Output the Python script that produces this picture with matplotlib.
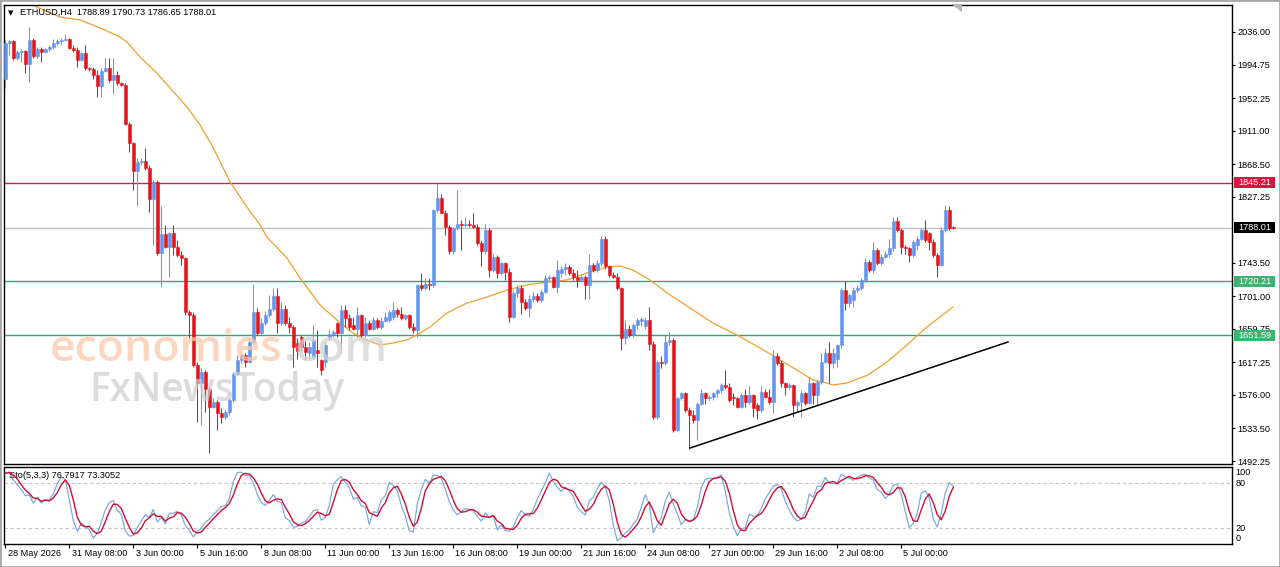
import numpy as np
import pandas as pd
import matplotlib
matplotlib.use("Agg")
import matplotlib.pyplot as plt
import matplotlib.transforms as mtransforms
from matplotlib.patches import Rectangle, Polygon

plt.rcParams['font.family'] = ['Liberation Sans', 'DejaVu Sans']

# ---------------- data ----------------
symbol = "ETHUSD,H4"
last_ohlc = [1788.89, 1790.73, 1786.65, 1788.01]

opens = [
    1977, 2022, 2024, 2003, 2011, 2012, 1995, 2026, 2005, 2015,
    2010, 2014, 2017, 2022, 2025, 2026, 2027, 2016, 2013, 2001,
    2009, 1990, 1989, 1981, 1967, 1986, 1990, 1975, 1981, 1971,
    1969, 1920, 1895, 1860, 1871, 1872, 1863, 1824, 1846, 1756,
    1780, 1764, 1781, 1764, 1753, 1749, 1681, 1677, 1614, 1591,
    1605, 1584, 1561, 1567, 1553, 1548, 1555, 1570, 1603, 1620,
    1627, 1618, 1643, 1681, 1654, 1667, 1677, 1685, 1701, 1667,
    1685, 1667, 1662, 1642, 1650, 1637, 1629, 1624, 1633, 1620,
    1618, 1648, 1653, 1667, 1654, 1684, 1673, 1665, 1660, 1677,
    1652, 1667, 1660, 1671, 1662, 1670, 1671, 1675, 1684, 1679,
    1673, 1677, 1662, 1658, 1715, 1711, 1717, 1715, 1810, 1825,
    1807, 1789, 1758, 1787, 1793, 1791, 1793, 1791, 1789, 1768,
    1758, 1785, 1734, 1751, 1730, 1743, 1732, 1675, 1705, 1711,
    1694, 1686, 1698, 1701, 1696, 1707, 1724, 1726, 1713, 1730,
    1735, 1738, 1730, 1726, 1722, 1726, 1715, 1741, 1734, 1743,
    1774, 1739, 1728, 1726, 1711, 1648, 1660, 1652, 1665, 1670,
    1664, 1671, 1641, 1548, 1618, 1616, 1643, 1646, 1532, 1572,
    1578, 1557, 1550, 1544, 1565, 1578, 1572, 1574, 1578, 1582,
    1589, 1586, 1574, 1572, 1561, 1576, 1567, 1576, 1563, 1557,
    1580, 1574, 1567, 1625, 1616, 1591, 1586, 1589, 1563, 1567,
    1578, 1566, 1591, 1576, 1593, 1618, 1629, 1616, 1622, 1639,
    1709, 1692, 1696, 1709, 1711, 1722, 1745, 1734, 1760, 1743,
    1751, 1755, 1762, 1796, 1785, 1764, 1762, 1753, 1766, 1774,
    1785, 1781, 1770, 1753, 1741, 1785, 1810, 1788.89,
]
highs = [
    2026, 2026, 2026, 2013, 2015, 2013, 2042, 2028, 2017, 2017,
    2016, 2019, 2027, 2027, 2028, 2033, 2028, 2019, 2017, 2011,
    2020, 1992, 1992, 1988, 1990, 2003, 2003, 2003, 1986, 1972,
    1971, 1922, 1897, 1876, 1876, 1889, 1867, 1848, 1848, 1815,
    1791, 1783, 1791, 1772, 1758, 1751, 1684, 1681, 1618, 1610,
    1608, 1586, 1572, 1570, 1559, 1557, 1572, 1605, 1627, 1631,
    1629, 1648, 1717, 1686, 1673, 1682, 1703, 1711, 1711, 1694,
    1690, 1675, 1665, 1648, 1652, 1646, 1643, 1665, 1658, 1622,
    1643, 1658, 1658, 1669, 1690, 1690, 1679, 1675, 1688, 1679,
    1675, 1671, 1675, 1673, 1675, 1681, 1684, 1694, 1686, 1688,
    1679, 1679, 1667, 1717, 1730, 1724, 1724, 1812, 1844, 1831,
    1810, 1791, 1789, 1836, 1798, 1802, 1798, 1806, 1793, 1772,
    1793, 1787, 1755, 1753, 1745, 1745, 1737, 1709, 1715, 1715,
    1698, 1703, 1707, 1705, 1709, 1728, 1728, 1727, 1747, 1739,
    1743, 1741, 1735, 1734, 1728, 1728, 1755, 1743, 1747, 1777,
    1777, 1741, 1732, 1730, 1713, 1671, 1665, 1667, 1673, 1675,
    1675, 1688, 1644, 1620, 1625, 1652, 1656, 1648, 1574, 1580,
    1580, 1561, 1557, 1567, 1584, 1580, 1576, 1580, 1584, 1591,
    1608, 1591, 1578, 1574, 1578, 1584, 1587, 1577, 1566, 1587,
    1584, 1584, 1633, 1629, 1620, 1593, 1591, 1590, 1570, 1582,
    1580, 1599, 1593, 1595, 1629, 1635, 1643, 1635, 1641, 1711,
    1720, 1705, 1713, 1715, 1724, 1749, 1747, 1770, 1762, 1755,
    1758, 1774, 1802, 1802, 1787, 1766, 1764, 1772, 1777, 1787,
    1798, 1783, 1774, 1756, 1789, 1817, 1815, 1790.73,
]
lows = [
    1965, 2007, 2001, 2001, 1998, 1984, 1973, 2003, 2003, 1998,
    2009, 2012, 2015, 2020, 2020, 2024, 2014, 2011, 1992, 1999,
    1988, 1987, 1977, 1954, 1954, 1985, 1973, 1958, 1969, 1967,
    1918, 1884, 1836, 1815, 1867, 1861, 1808, 1766, 1753, 1713,
    1762, 1726, 1753, 1751, 1741, 1677, 1648, 1611, 1542, 1538,
    1555, 1502, 1559, 1532, 1540, 1546, 1550, 1567, 1601, 1616,
    1612, 1618, 1640, 1652, 1652, 1665, 1675, 1682, 1654, 1665,
    1665, 1654, 1612, 1622, 1632, 1620, 1622, 1622, 1612, 1601,
    1612, 1645, 1650, 1650, 1629, 1662, 1658, 1658, 1650, 1650,
    1650, 1658, 1658, 1660, 1660, 1669, 1669, 1671, 1675, 1671,
    1671, 1660, 1654, 1650, 1709, 1709, 1709, 1713, 1808, 1806,
    1779, 1755, 1755, 1785, 1760, 1789, 1789, 1787, 1766, 1739,
    1755, 1726, 1732, 1724, 1728, 1722, 1669, 1673, 1700, 1679,
    1684, 1675, 1694, 1694, 1694, 1705, 1720, 1711, 1705, 1725,
    1728, 1728, 1722, 1713, 1720, 1698, 1698, 1732, 1732, 1739,
    1736, 1726, 1724, 1709, 1633, 1641, 1650, 1650, 1660, 1663,
    1660, 1633, 1546, 1546, 1610, 1614, 1639, 1529, 1530, 1570,
    1555, 1508, 1540, 1519, 1563, 1565, 1570, 1570, 1574, 1578,
    1584, 1567, 1563, 1559, 1559, 1561, 1565, 1548, 1546, 1555,
    1572, 1565, 1553, 1614, 1586, 1576, 1584, 1548, 1555, 1548,
    1563, 1564, 1565, 1563, 1590, 1616, 1591, 1610, 1612, 1635,
    1684, 1688, 1688, 1707, 1709, 1719, 1732, 1730, 1741, 1741,
    1749, 1751, 1758, 1783, 1755, 1755, 1745, 1751, 1760, 1772,
    1770, 1760, 1751, 1726, 1739, 1783, 1785, 1786.65,
]
closes = [
    2022, 2024, 2003, 2011, 2012, 1995, 2026, 2005, 2015, 2010,
    2014, 2017, 2022, 2025, 2026, 2027, 2016, 2013, 2001, 2009,
    1990, 1989, 1981, 1967, 1986, 1990, 1975, 1981, 1971, 1969,
    1920, 1895, 1860, 1871, 1872, 1863, 1824, 1846, 1756, 1780,
    1764, 1781, 1764, 1753, 1749, 1681, 1677, 1614, 1591, 1605,
    1584, 1561, 1567, 1553, 1548, 1555, 1570, 1603, 1620, 1627,
    1618, 1643, 1681, 1654, 1667, 1677, 1685, 1701, 1667, 1685,
    1667, 1662, 1637, 1632, 1637, 1631, 1637, 1646, 1629, 1608,
    1639, 1653, 1656, 1654, 1684, 1673, 1662, 1660, 1677, 1652,
    1667, 1660, 1671, 1662, 1670, 1675, 1681, 1684, 1679, 1673,
    1677, 1662, 1658, 1715, 1711, 1717, 1715, 1810, 1825, 1807,
    1789, 1758, 1787, 1793, 1791, 1793, 1791, 1789, 1768, 1758,
    1785, 1734, 1751, 1730, 1743, 1732, 1675, 1705, 1711, 1694,
    1686, 1698, 1701, 1696, 1707, 1724, 1726, 1713, 1734, 1735,
    1738, 1730, 1726, 1722, 1726, 1715, 1741, 1734, 1743, 1774,
    1739, 1728, 1726, 1711, 1648, 1660, 1652, 1665, 1671, 1672,
    1671, 1641, 1548, 1618, 1616, 1643, 1646, 1532, 1572, 1578,
    1557, 1550, 1544, 1565, 1578, 1572, 1574, 1578, 1582, 1589,
    1586, 1570, 1572, 1561, 1576, 1567, 1576, 1559, 1557, 1580,
    1574, 1567, 1625, 1616, 1591, 1586, 1589, 1563, 1567, 1578,
    1566, 1591, 1576, 1593, 1618, 1629, 1616, 1629, 1639, 1709,
    1692, 1703, 1709, 1711, 1722, 1745, 1734, 1760, 1743, 1751,
    1755, 1762, 1796, 1785, 1764, 1762, 1753, 1770, 1774, 1785,
    1772, 1770, 1753, 1741, 1785, 1810, 1788, 1788.01,
]

# moving average (orange): candle index -> value
ma_idx = [6.7, 13.7, 18.7, 23.7, 28.7, 30.4, 33.7, 37.9, 41.2, 45.4, 48.7, 51.9,
          56.2, 60.4, 63.7, 65.4, 70.4, 73.7, 78.7, 82.9, 86.9, 90.4, 93.7, 96.9,
          100.4, 102.9, 106.2, 110.4, 115.4, 120.4, 125.4, 130.4, 135.4, 140.4,
          145.4, 150.4, 153.7, 156.9, 161.2, 166.2, 171.2, 176.9, 182.9, 188.7,
          193.7, 198.7, 201.9, 205.4, 206.9, 210.4, 215.7, 220.4, 225.4, 230.4,
          233.7, 236.9]
ma_vals = [2070.2, 2055.0, 2051.2, 2041.1, 2029.7, 2023.3, 2004.3, 1984.0, 1965.0,
           1941.0, 1918.1, 1890.2, 1845.9, 1814.2, 1791.4, 1776.2, 1749.6, 1724.3,
           1690.0, 1671.0, 1654.5, 1645.6, 1639.3, 1641.8, 1645.6, 1652.0, 1662.1,
           1679.8, 1692.5, 1700.1, 1709.0, 1715.3, 1719.1, 1721.7, 1730.5, 1738.1,
           1739.4, 1734.3, 1721.7, 1702.7, 1686.2, 1667.2, 1652.0, 1635.5, 1620.3,
           1605.1, 1595.0, 1591.1, 1588.6, 1591.1, 1601.3, 1617.7, 1639.3, 1662.1,
           1674.8, 1687.4]

trend_idx = [171.2, 250.7]
trend_vals = [1508.7, 1643.1]

level_resist = 1845.21
level_current = 1788.01
levels_support = [1720.21, 1651.59]

ytick_vals = [2036.00, 1994.75, 1952.25, 1911.00, 1868.50, 1827.25, 1743.50,
              1701.00, 1659.75, 1617.25, 1576.00, 1533.50, 1492.25]

date_labels = ["28 May 2026", "31 May 08:00", "3 Jun 00:00", "5 Jun 16:00",
               "8 Jun 08:00", "11 Jun 00:00", "13 Jun 16:00", "16 Jun 08:00",
               "19 Jun 00:00", "21 Jun 16:00", "24 Jun 08:00", "27 Jun 00:00",
               "29 Jun 16:00", "2 Jul 08:00", "5 Jul 00:00"]
date_idx = [0, 16, 32, 48, 64, 80, 96, 112, 128, 144, 160, 176, 192, 208, 224]

sto_k, sto_slow, sto_d = 5, 3, 3
sto_title_vals = [76.7917, 73.3052]

# ---------------- layout ----------------
W, H = 1280, 567
fig = plt.figure(figsize=(12.8, 5.67), dpi=100)
fig.patch.set_facecolor('white')


def fx(px):
    return px / W


def fy(py):
    return 1 - py / H


L_PX, R_PX = 3.5, 1232
ax = fig.add_axes([fx(L_PX), fy(463.5), fx(R_PX) - fx(L_PX), fy(5) - fy(463.5)])
ax2 = fig.add_axes([fx(L_PX), fy(544.3), fx(R_PX) - fx(L_PX), fy(466.7) - fy(544.3)])

XMIN, XMAX = -0.45, 306.7
YMIN, YMAX = 1489.1, 2070.2
FS = 6.6

o = np.array(opens, float)
h = np.array(highs, float)
l = np.array(lows, float)
c = np.array(closes, float)
h = np.maximum(h, np.maximum(o, c))
l = np.minimum(l, np.minimum(o, c))
n = len(c)
idx = np.arange(n)

bull = '#6495ED'
bear = '#E3141B'
up = c >= o
cols = np.where(up, bull, bear)

ax.set_xlim(XMIN, XMAX)
ax.set_ylim(YMIN, YMAX)

# horizontal levels
ax.axhline(level_resist, color='#b8285e', lw=1.0, zorder=1)
ax.axhline(level_current, color='#c0c0c0', lw=1.0, zorder=1)
for lv in levels_support:
    ax.axhline(lv, color='#3c9f78', lw=1.0, zorder=1)

# moving average
ax.plot(ma_idx, ma_vals, color='#F0A030', lw=0.9, zorder=2)

# candles
ax.vlines(idx, l, h, colors=cols, linewidth=0.75, zorder=3)
ax.bar(idx, np.abs(c - o), bottom=np.minimum(o, c), width=0.68, color=cols,
       edgecolor=cols, linewidth=0.4, zorder=4)

# trend line
ax.plot(trend_idx, trend_vals, color='black', lw=1.1, zorder=5)

# axes styling
for sp in ax.spines.values():
    sp.set_color('black')
    sp.set_linewidth(1.0)
ax.set_xticks([])
ax.yaxis.tick_right()
ax.set_yticks(ytick_vals)
ax.set_yticklabels([f"{v:.2f}" for v in ytick_vals])
ax.tick_params(axis='y', length=2.5, width=0.8, pad=1.5, labelsize=FS,
               direction='out', colors='black')

# price tags
ppp = (YMAX - YMIN) / 458.5  # price per pixel
trans = mtransforms.blended_transform_factory(ax.transAxes, ax.transData)
axw = R_PX - L_PX


def price_tag(val, bg):
    rect = Rectangle((1.0 + 2.3 / axw, val - 5.6 * ppp), 41 / axw, 11.2 * ppp,
                     transform=trans, facecolor=bg, edgecolor='none',
                     clip_on=False, zorder=20)
    ax.add_patch(rect)
    ax.text(1.0 + 22.8 / axw, val, f"{val:.2f}", transform=trans, ha='center',
            va='center', fontsize=FS, color='white', clip_on=False, zorder=21)


price_tag(level_resist, '#DC143C')
price_tag(level_current, '#000000')
for lv in levels_support:
    price_tag(lv, '#3CB371')

# title
ax.text((8 - L_PX) / axw, (463.5 - 12.8) / 458.5, '▼', transform=ax.transAxes,
        fontsize=5, family='DejaVu Sans', ha='left', va='center', color='black')
ax.text((20.5 - L_PX) / axw, (463.5 - 12.8) / 458.5,
        f"{symbol}  " + " ".join(f"{v:.2f}" for v in last_ohlc),
        transform=ax.transAxes, fontsize=FS, ha='left', va='center', color='black')

# ---------------- stochastic ----------------
s_h, s_l, s_c = pd.Series(h), pd.Series(l), pd.Series(c)
ll = s_l.rolling(sto_k, min_periods=1).min()
hh = s_h.rolling(sto_k, min_periods=1).max()
num = (s_c - ll).rolling(sto_slow, min_periods=1).sum()
den = (hh - ll).rolling(sto_slow, min_periods=1).sum()
k_line = 100 * num / den.replace(0, np.nan)
d_line = k_line.rolling(sto_d, min_periods=1).mean()

ax2.set_xlim(XMIN, XMAX)
ax2.set_ylim(-1.3, 102.1)
for lvl in (20, 80):
    ax2.axhline(lvl, color='#c4c4c4', lw=0.8, ls=(0, (3, 2.5)), zorder=1)
ax2.plot(idx, k_line, color='#7aa6dc', lw=0.85, zorder=3)
ax2.plot(idx, d_line, color='#cc1133', lw=1.0, zorder=4)
for sp in ax2.spines.values():
    sp.set_color('black')
    sp.set_linewidth(1.0)
ax2.set_yticks([])
ax2.set_xticks(date_idx)
ax2.set_xticklabels([])
ax2.tick_params(axis='x', length=3, width=0.8, direction='out', colors='black')

tr2 = mtransforms.blended_transform_factory(ax2.transAxes, ax2.transData)
ax2.text(1.0 + 3.5 / axw, 100, '100', transform=tr2, fontsize=FS, ha='left', va='top')
ax2.text(1.0 + 3.5 / axw, 80, '80', transform=tr2, fontsize=FS, ha='left', va='center')
ax2.text(1.0 + 3.5 / axw, 20, '20', transform=tr2, fontsize=FS, ha='left', va='center')
ax2.text(1.0 + 3.5 / axw, 0, '0', transform=tr2, fontsize=FS, ha='left', va='bottom')
ax2.text((9 - L_PX) / axw, (544.3 - 476) / 77.6,
         f"Sto({sto_k},{sto_slow},{sto_d}) {sto_title_vals[0]:.4f} {sto_title_vals[1]:.4f}",
         transform=ax2.transAxes, fontsize=FS, ha='left', va='center')

for di, lab in zip(date_idx, date_labels):
    ax2.annotate(lab, xy=(di, 0), xycoords=('data', 'axes fraction'),
                 xytext=(1.6, -6.3), textcoords='offset points',
                 ha='left', va='center', fontsize=FS, annotation_clip=False)

# ---------------- watermark ----------------
renderer = fig.canvas.get_renderer()
wm1 = fig.text(fx(50), fy(361), 'economies', fontsize=32, family='Open Sans',
               fontweight='semibold', color='#fbc9a8', alpha=0.75,
               ha='left', va='baseline', zorder=30)
bb = wm1.get_window_extent(renderer=renderer)
fig.text(bb.x1 / W, fy(361), '.com', fontsize=32, family='Open Sans',
         fontweight='semibold', color='#d2d2d2', alpha=0.75,
         ha='left', va='baseline', zorder=30)
fig.text(fx(89), fy(401), 'FxNewsToday', fontsize=28, family='Open Sans',
         fontweight='semibold', color='#cdcdcd', alpha=0.7,
         ha='left', va='baseline', zorder=30)

# frame decorations
fig.add_artist(Rectangle((0, 0), 1, 1, transform=fig.transFigure, fill=False,
                         edgecolor='#a8a8a8', linewidth=2.0))
fig.add_artist(Polygon([[fx(951), fy(4)], [fx(962), fy(4)], [fx(962), fy(12)]],
                       closed=True, transform=fig.transFigure,
                       facecolor='#b4b4b4', edgecolor='none'))

fig.savefig('out.png', dpi=100)
